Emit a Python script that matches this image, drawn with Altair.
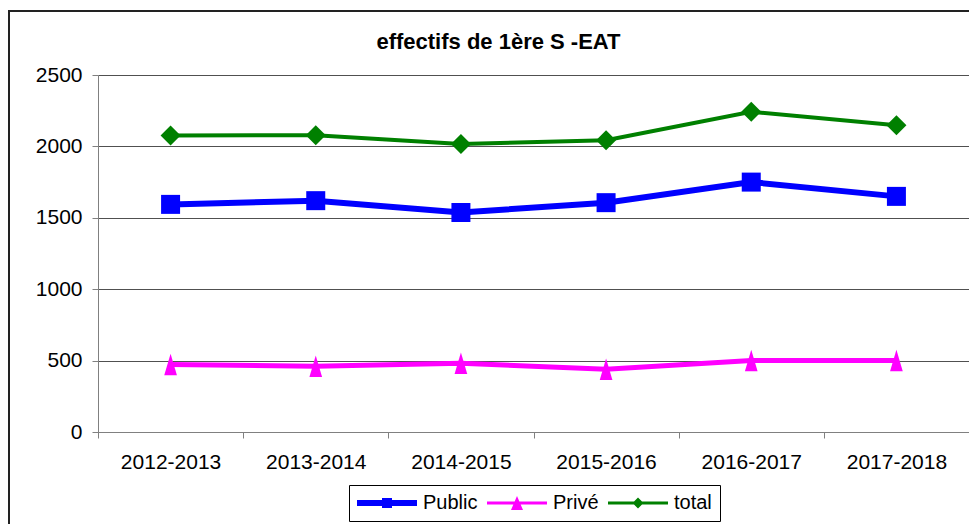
import altair as alt
import pandas as pd

years = ["2012-2013", "2013-2014", "2014-2015", "2015-2016", "2016-2017", "2017-2018"]
public = [1594, 1620, 1537, 1606, 1750, 1650]
prive = [472, 460, 481, 440, 500, 500]
total = [2077, 2078, 2016, 2043, 2243, 2148]

series = ["Public", "Privé", "total"]
colors = ["#0000FF", "#FF00FF", "#008000"]
line_widths = [6, 4, 4]
marker_shapes = ["square", "M0,-1.1L0.65,1.1L-0.65,1.1Z", "diamond"]
marker_sizes = [361, 400, 441]
legend_shapes = [
    "M-3,-0.3H3V0.3H-3Z M-0.5,-0.5H0.5V0.5H-0.5Z",
    "M-3,-0.15H3V0.15H-3Z M0,-0.7L0.6,0.7L-0.6,0.7Z",
    "M-3,-0.15H3V0.15H-3Z M0,-0.55L0.55,0L0,0.55L-0.55,0Z",
]

rows = []
for s, vals in zip(series, [public, prive, total]):
    for yr, v in zip(years, vals):
        rows.append({"year": yr, "series": s, "value": v})
df = pd.DataFrame(rows)

FONT = "Liberation Sans"

x_enc = alt.X(
    "year:N",
    sort=years,
    scale=alt.Scale(type="band", paddingInner=0, paddingOuter=0),
    axis=alt.Axis(
        title=None,
        tickBand="extent",
        labelFont=FONT,
        labelFontSize=21,
        labelColor="black",
        labelPadding=13,
        labelAngle=0,
        domainColor="#808080",
        tickColor="#808080",
        tickSize=6,
        grid=False,
    ),
)
y_enc = alt.Y(
    "value:Q",
    scale=alt.Scale(domain=[0, 2500], nice=False),
    axis=alt.Axis(
        title=None,
        values=[0, 500, 1000, 1500, 2000, 2500],
        format="d",
        labelFont=FONT,
        labelFontSize=21,
        labelColor="black",
        labelPadding=10,
        domainColor="#808080",
        tickColor="#808080",
        tickSize=6,
        grid=True,
        gridColor="#505050",
        gridWidth=1,
    ),
)

color_nolegend = alt.Color(
    "series:N", scale=alt.Scale(domain=series, range=colors), legend=None
)

border = alt.Chart(alt.Data(values=[{"a": 1}])).mark_rect(
    fill="transparent", stroke="#222222", strokeWidth=2
).encode(
    x=alt.value(-89), x2=alt.value(890), y=alt.value(-64), y2=alt.value(480)
)

lines = alt.Chart(df).mark_line().encode(
    x=x_enc,
    y=y_enc,
    color=color_nolegend,
    strokeWidth=alt.StrokeWidth(
        "series:N", scale=alt.Scale(domain=series, range=line_widths), legend=None
    ),
    detail="series:N",
)

points = alt.Chart(df).mark_point(filled=True, opacity=1).encode(
    x=x_enc,
    y=y_enc,
    color=color_nolegend,
    shape=alt.Shape(
        "series:N", scale=alt.Scale(domain=series, range=marker_shapes), legend=None
    ),
    size=alt.Size(
        "series:N", scale=alt.Scale(domain=series, range=marker_sizes), legend=None
    ),
)

legend_common = dict(
    title=None,
    orient="none",
    legendX=251,
    legendY=410,
    direction="horizontal",
    strokeColor="black",
    fillColor="white",
    padding=8,
    symbolOffset=20,
    labelOffset=26,
    columnPadding=9,
    labelFont=FONT,
    labelFontSize=20,
    labelColor="black",
    symbolSize=400,
    symbolStrokeWidth=0,
)

legend_layer = alt.Chart(df).transform_filter("false").mark_point(
    filled=True, opacity=1, size=400
).encode(
    x=x_enc,
    y=y_enc,
    color=alt.Color(
        "series:N",
        scale=alt.Scale(domain=series, range=colors),
        legend=alt.Legend(**legend_common),
    ),
    shape=alt.Shape(
        "series:N",
        scale=alt.Scale(domain=series, range=legend_shapes),
        legend=alt.Legend(**legend_common),
    ),
)

chart = alt.layer(border, lines, points, legend_layer).resolve_scale(
    color="independent", shape="independent"
).properties(
    width=871,
    height=357,
    title=alt.TitleParams(
        "effectifs de 1ère S -EAT",
        font=FONT,
        fontSize=22,
        fontWeight="bold",
        color="black",
        anchor="middle",
        dx=-35,
        offset=-44,
    ),
    autosize=alt.AutoSizeParams(type="none"),
    padding={"left": 90, "top": 67, "right": 0, "bottom": 92},
).configure_view(stroke=None).configure(background="white")

chart.save("out.html", embed_options={"renderer": "svg", "actions": False})
